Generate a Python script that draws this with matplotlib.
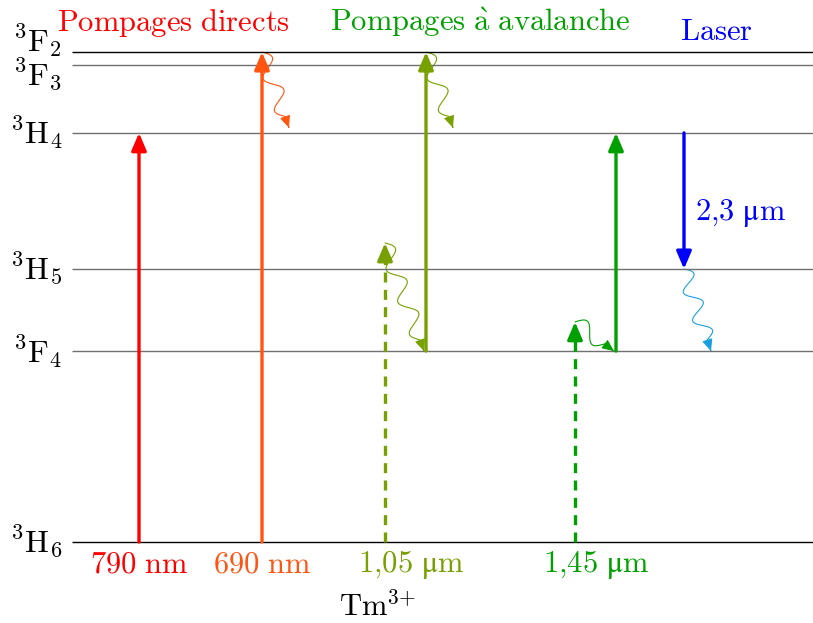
import numpy as np
import matplotlib.pyplot as plt
from matplotlib.patches import FancyArrowPatch
from matplotlib.path import Path
from matplotlib.transforms import IdentityTransform

plt.rcParams["mathtext.fontset"] = "cm"
plt.rcParams["font.family"] = ["cmr10", "DejaVu Serif"]

# energy levels of Tm3+ (cm^-1)
level_labels = [r"$^{3}\mathrm{H}_{6}$", r"$^{3}\mathrm{F}_{4}$", r"$^{3}\mathrm{H}_{5}$",
                r"$^{3}\mathrm{H}_{4}$", r"$^{3}\mathrm{F}_{3}$", r"$^{3}\mathrm{F}_{2}$"]
level_energy = [0, 5880, 8410, 12600, 14690, 15090]
level_colors = ["black", "#707070", "#707070", "#707070", "#707070", "black"]
level_label_dy = [0, 0, 0, 0, -7, 8]

# pump transitions
pump_x = [139, 262, 385, 426, 575, 616]
pump_from = [0, 0, 0, 5880, 0, 5880]
pump_to = [12600, 15090, 9210, 15090, 6780, 12600]
pump_colors = ["#ff0000", "#ff5511", "#77a000", "#77a000", "#00a000", "#00a000"]
pump_dashed = [False, False, True, False, True, False]

# laser transition
laser_x = 684
laser_from = 12600
laser_to = 8410
laser_label = r"$\mathrm{2{,}3\ μm}$"

# non-radiative relaxations
wavy_x0 = [262, 385, 426, 575, 684]
wavy_e0 = [15090, 9210, 15090, 6780, 8410]
wavy_x1 = [289, 424, 453, 614, 711]
wavy_e1 = [12760, 5880, 12760, 5880, 5880]
wavy_colors = ["#ff5511", "#77a000", "#77a000", "#00a000", "#1aa0e0"]

# wavelength labels
wl_labels = [r"$\mathrm{790\ nm}$", r"$\mathrm{690\ nm}$",
             r"$\mathrm{1{,}05\ μm}$", r"$\mathrm{1{,}45\ μm}$"]
wl_x = [139, 262, 411, 596]
wl_colors = ["#ff0000", "#ff5511", "#77a000", "#00a000"]

# group titles
title_labels = [r"$\mathrm{Pompages\ directs}$", r"$\mathrm{Pompages\ \grave{a}\ avalanche}$",
                r"$\mathrm{Laser}$"]
title_x = [173, 480, 717]
title_e = [16000, 16000, 15690]
title_colors = ["#ff0000", "#00a000", "#0000ff"]

fig = plt.figure(figsize=(8.13, 6.23), dpi=100)
ax = fig.add_axes([0, 0, 1, 1])
ax.set_xlim(0, 813)
ax.set_ylim(-2495, 16694)
ax.axis("off")

x_left, x_right = 72, 813
for lab, e, c, dy in zip(level_labels, level_energy, level_colors, level_label_dy):
    ax.plot([x_left, x_right], [e, e], color=c, lw=1.0, solid_capstyle="butt")
    ax.annotate(lab, (x_left - 10, e), xytext=(0, dy), textcoords="offset points",
                ha="right", va="center", fontsize=23)

head = "-|>,head_length=0.7,head_width=0.3"
for x, e0, e1, c, dashed in zip(pump_x, pump_from, pump_to, pump_colors, pump_dashed):
    if dashed:
        ax.plot([x, x], [e0, e1 - 300], color=c, lw=2.4, dashes=(3, 2.2))
        ax.annotate("", xy=(x, e1), xytext=(x, e1 - 450),
                    arrowprops=dict(arrowstyle=head, color=c, lw=2.4,
                                    mutation_scale=15, shrinkA=0, shrinkB=0))
    else:
        ax.annotate("", xy=(x, e1), xytext=(x, e0),
                    arrowprops=dict(arrowstyle=head, color=c, lw=2.4,
                                    mutation_scale=15, shrinkA=0, shrinkB=0))

ax.annotate("", xy=(laser_x, laser_to), xytext=(laser_x, laser_from),
            arrowprops=dict(arrowstyle=head, color="#0000ff", lw=2.4,
                            mutation_scale=15, shrinkA=0, shrinkB=0))
ax.text(laser_x + 11, (laser_from + laser_to) / 2 - 370, laser_label, color="#0000ff",
        ha="left", va="center", fontsize=22)

# wavy arrows (snake then a short straight end), built in display space
fig.canvas.draw()
for x0, e0, x1, e1, c in zip(wavy_x0, wavy_e0, wavy_x1, wavy_e1, wavy_colors):
    p0 = ax.transData.transform((x0, e0))
    p1 = ax.transData.transform((x1, e1))
    d = p1 - p0
    length = np.hypot(*d)
    u = d / length
    perp = np.array([-u[1], u[0]])
    snake_len = length - 12
    n = max(1.0, round(2 * snake_len / 32) / 2)
    t = np.linspace(0, length, 300)
    off = np.where(t < snake_len, 8 * np.sin(2 * np.pi * n * t / snake_len), 0)
    pts = p0 + np.outer(t, u) + np.outer(off, perp)
    arr = FancyArrowPatch(path=Path(pts), arrowstyle="-|>,head_length=0.9,head_width=0.4",
                          mutation_scale=8, color=c, lw=0.8,
                          transform=IdentityTransform())
    ax.add_patch(arr)

for lab, x, c in zip(wl_labels, wl_x, wl_colors):
    ax.text(x, -700, lab, color=c, ha="center", va="center", fontsize=22)

for lab, x, e, c in zip(title_labels, title_x, title_e, title_colors):
    ax.text(x, e, lab, color=c, ha="center", va="center", fontsize=22)

ax.text(377, -1990, r"$\mathrm{Tm}^{3{+}}$", ha="center", va="center", fontsize=22)

fig.savefig("out.png", dpi=100)
